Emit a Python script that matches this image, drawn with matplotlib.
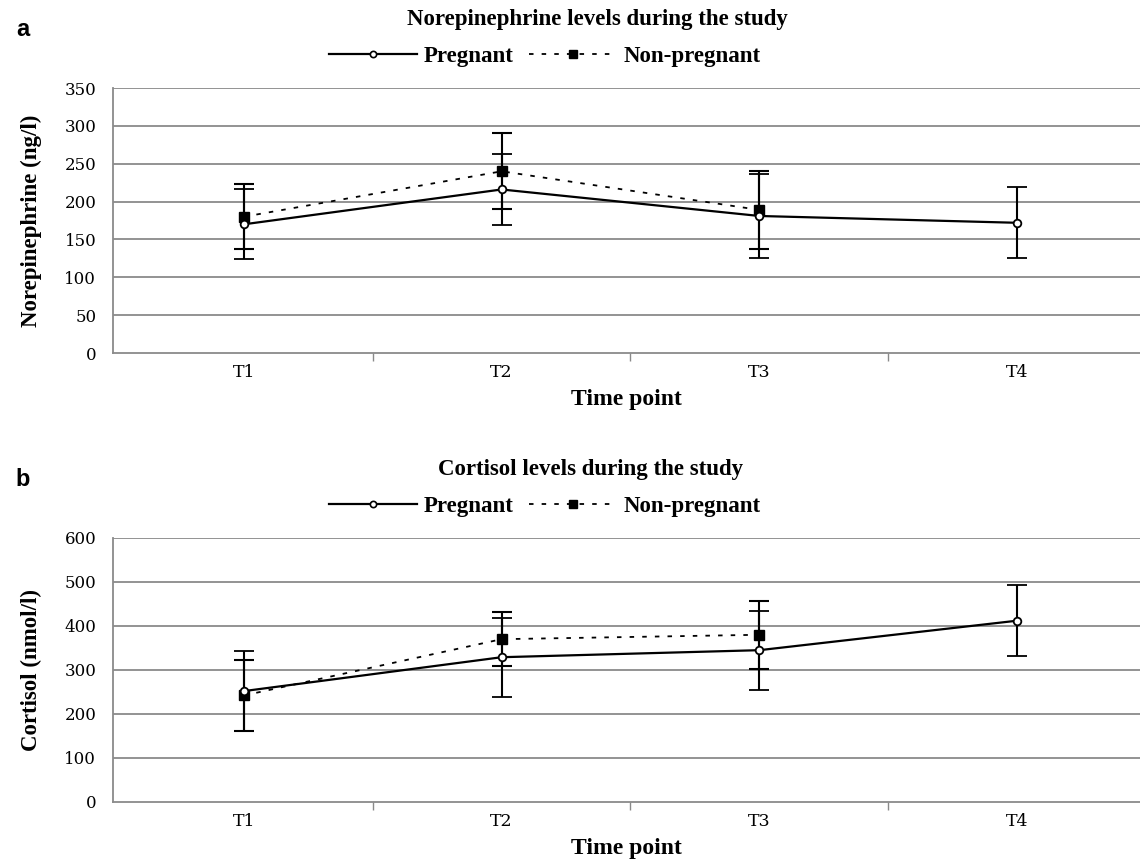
import matplotlib
matplotlib.use('Agg')
import matplotlib.pyplot as plt
from matplotlib.lines import Line2D
from matplotlib.ticker import FixedLocator

time_points = ['T1', 'T2', 'T3', 'T4']

# norepinephrine (ng/l)
ne_preg = [170, 216, 181, 172]
ne_preg_err = [46, 47, 56, 47]
ne_nonpreg = [180, 240, 189]
ne_nonpreg_err = [43, 50, 52]

# cortisol (nmol/l)
cort_preg = [252, 329, 345, 412]
cort_preg_err = [90, 90, 90, 80]
cort_nonpreg = [242, 370, 380]
cort_nonpreg_err = [80, 62, 77]

serif = 'Liberation Serif'
grid_col = '#8a8a8a'

fig = plt.figure(figsize=(11.4, 8.67), dpi=100)
ax_a = fig.add_axes([0.0991, 0.5928, 0.9009, 0.3057])
ax_b = fig.add_axes([0.0991, 0.0750, 0.9009, 0.3045])


def draw_panel(ax, preg, preg_err, nonpreg, nonpreg_err, ymax, ystep, ylabel, leg_y):
    xp = list(range(1, len(preg) + 1))
    xn = list(range(1, len(nonpreg) + 1))
    for y in range(ystep, ymax + 1, ystep):
        ax.axhline(y, color=grid_col, lw=1.3, zorder=0)
    ax.errorbar(xn, nonpreg, yerr=nonpreg_err, color='black', lw=1.3,
                dashes=(2.5, 4.5), marker='s', ms=6.5, mfc='black', mec='black',
                ecolor='black', elinewidth=1.5, capsize=7.5, capthick=1.5,
                zorder=3)
    ax.errorbar(xp, preg, yerr=preg_err, color='black', lw=1.6, ls='-',
                marker='o', ms=5.5, mfc='white', mec='black', mew=1.3,
                ecolor='black', elinewidth=1.5, capsize=7.5, capthick=1.5,
                zorder=4)
    ax.set_xlim(0.492, 4.477)
    ax.set_ylim(0, ymax)
    ax.set_yticks(range(0, ymax + 1, ystep))
    ax.set_yticklabels([str(v) for v in range(0, ymax + 1, ystep)],
                       fontfamily='DejaVu Serif', fontsize=12)
    ax.set_xticks(xp)
    ax.set_xticklabels(time_points, fontfamily='DejaVu Serif', fontsize=12.5)
    ax.xaxis.set_minor_locator(FixedLocator([1.5, 2.5, 3.5]))
    ax.tick_params(axis='x', which='major', length=0, pad=8)
    ax.tick_params(axis='x', which='minor', length=6, width=1, color=grid_col,
                   direction='out')
    ax.tick_params(axis='y', length=0, pad=12)
    for s in ['top', 'right']:
        ax.spines[s].set_visible(False)
    for s in ['left', 'bottom']:
        ax.spines[s].set_color(grid_col)
        ax.spines[s].set_linewidth(1.3)
    ax.set_xlabel('Time point', fontfamily=serif, fontweight='bold',
                  fontsize=17, labelpad=6)
    ax.set_ylabel(ylabel, fontfamily=serif, fontweight='bold',
                  fontsize=16.5, labelpad=16)
    handles = [
        Line2D([], [], color='black', lw=1.6, marker='o', ms=4.5,
               mfc='white', mec='black', mew=1.2),
        Line2D([], [], color='black', lw=1.3, dashes=(2.5, 4.5), marker='s',
               ms=5.5, mfc='black', mec='black'),
    ]
    fig.legend(handles, ['Pregnant', 'Non-pregnant'], ncol=2, loc='center',
               bbox_to_anchor=(0.478, leg_y), frameon=False,
               prop={'family': serif, 'weight': 'bold', 'size': 16.5},
               handlelength=3.8, handletextpad=0.3, columnspacing=0.7)


draw_panel(ax_a, ne_preg, ne_preg_err, ne_nonpreg, ne_nonpreg_err,
           350, 50, 'Norepinephrine (ng/l)', 0.935)
draw_panel(ax_b, cort_preg, cort_preg_err, cort_nonpreg, cort_nonpreg_err,
           600, 100, 'Cortisol (nmol/l)', 0.416)

fig.text(0.524, 0.978, 'Norepinephrine levels during the study', ha='center',
         va='center', fontfamily=serif, fontweight='bold', fontsize=16.5)
fig.text(0.518, 0.459, 'Cortisol levels during the study', ha='center',
         va='center', fontfamily=serif, fontweight='bold', fontsize=16.5)
fig.text(0.014, 0.966, 'a', fontfamily='Liberation Sans', fontweight='bold',
         fontsize=17, va='center')
fig.text(0.014, 0.447, 'b', fontfamily='Liberation Sans', fontweight='bold',
         fontsize=17, va='center')

fig.savefig('out.png', dpi=100)
